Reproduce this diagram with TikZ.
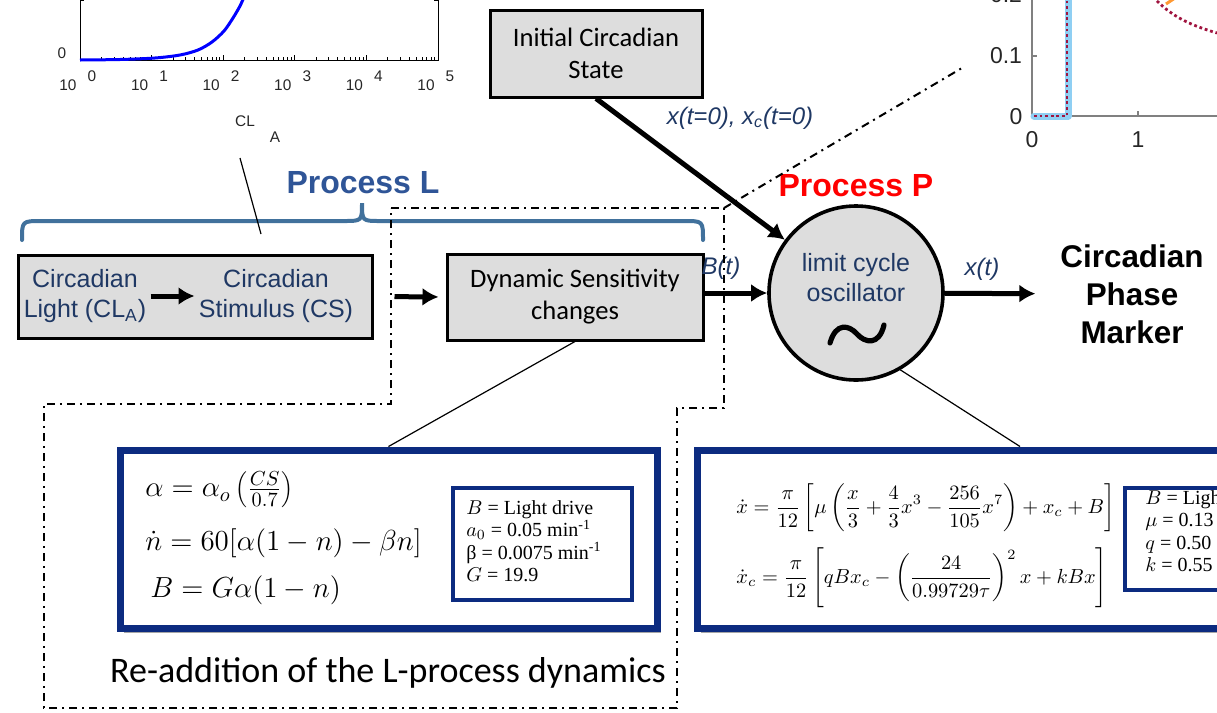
\RequirePackage{fix-cm}
\documentclass[tikz,border=0pt]{standalone}
\usepackage[no-math]{fontspec}
\setmainfont{Liberation Sans}
\newfontfamily\calibri{Carlito}
\newfontfamily\cambria{Liberation Serif}
\usetikzlibrary{arrows.meta,positioning,shadows}
\definecolor{navytext}{HTML}{1F3864}
\definecolor{proclblue}{HTML}{2F5597}
\definecolor{bracelblue}{HTML}{41719C}
\definecolor{boxgray}{HTML}{DDDDDD}
\definecolor{eqnavy}{HTML}{0C2B80}
\definecolor{ticktext}{HTML}{262626}
\definecolor{axisgrey}{HTML}{808080}
\definecolor{steplblue}{HTML}{8FCFF3}
\definecolor{dotred}{HTML}{A0143F}
\tikzset{%
  >={Latex[width=9pt,length=8pt]},
  % Styles for boxes and texts
        graybox/.style = {rectangle, draw=black, line width=1.5pt, fill=boxgray},
       bluetext/.style = {text=navytext, align=center, inner sep=2pt,
                          font=\fontsize{12.5}{15}\selectfont},
    calibritext/.style = {align=center, font=\calibri\fontsize{13.3}{16}\selectfont},
      proctitle/.style = {font=\bfseries\fontsize{16}{19}\selectfont},
     signallabel/.style = {text=navytext, font=\itshape\fontsize{12}{14}\selectfont},
        eqframe/.style = {rectangle, draw=eqnavy, line width=3.5pt, fill=white,
                          drop shadow={shadow xshift=2pt, shadow yshift=-2.5pt,
                                       opacity=0.35, fill=black}},
    legendframe/.style = {rectangle, draw=eqnavy, line width=2pt, fill=white},
     legendtext/.style = {align=left, anchor=west, inner sep=0pt,
                          font=\cambria\fontsize{10}{11.2}\selectfont},
         eqleft/.style = {anchor=west, inner sep=0pt, font=\fontsize{14.5}{17}\selectfont},
        eqright/.style = {anchor=west, inner sep=0pt, font=\fontsize{10.2}{12}\selectfont},
  % Styles for lines
     thickarrow/.style = {->, line width=2.5pt},
         leader/.style = {draw=black, line width=0.6pt},
        dashdot/.style = {draw=black, line width=1pt,
                          dash pattern=on 4pt off 2.5pt on 1pt off 2.5pt},
          brace/.style = {draw=bracelblue, line width=2pt, line cap=round},
       axisline/.style = {draw=black, line width=0.5pt},
      ticklabel/.style = {text=ticktext, inner sep=0pt, font=\fontsize{7.7}{9}\selectfont},
}

\begin{document}
\begin{tikzpicture}[x=0.5pt, y=-0.5pt]
  \clip (0,0) rectangle (1217,713);

  % CL_A response plot (cut off at top left)
  \draw[axisline] (80,-5) -- (80,60) -- (438,60) -- (438,-5);
  \draw[axisline] (80,0) -- (84,0) (438,0) -- (434,0);
  \foreach \d in {0,...,4}{
    \foreach \k in {2,...,9}
      \draw[axisline] ({80+71.6*(\d+log10(\k))},60) -- ++(0,-3);
  }
  \foreach \d in {0,...,5}{
    \draw[axisline] ({80+71.6*\d},60) -- ++(0,-5);
    \node[ticklabel] at ({68+71.6*\d},85) {10};
    \node[ticklabel] at ({92+71.6*\d},76) {\d};
  }
  \node (yzero) [ticklabel] at (62,53) {0};
  \node (cllabel) [ticklabel] at (245,121) {CL};
  \node (clsub) [ticklabel] at (275,137) {A};
  \draw[blue, line width=1.5pt] plot[smooth] coordinates
    {(80,60) (120,59.5) (155,58) (180,55) (198,50) (212,42) (224,31) (233,18) (240,6) (244,-3)};

  % Phase plot (cut off at top right)
  \draw[draw=axisgrey, line width=1pt] (1032,-5) -- (1032,116) -- (1220,116);
  \draw[draw=axisgrey, line width=1pt] (1032,56) -- (1037,56) (1138,116) -- (1138,111);
  \node (ytwo) [ticklabel, font=\fontsize{11.5}{13}\selectfont] at (1006,-5) {0.2};
  \node (yone) [ticklabel, font=\fontsize{11.5}{13}\selectfont] at (1006,56) {0.1};
  \node (ynil) [ticklabel, font=\fontsize{11.5}{13}\selectfont] at (1016,117) {0};
  \node (xnil) [ticklabel, font=\fontsize{11.5}{13}\selectfont] at (1032,140) {0};
  \node (xone) [ticklabel, font=\fontsize{11.5}{13}\selectfont] at (1138,140) {1};
  \draw[steplblue, line width=3.5pt, line join=round, line cap=round]
    (1034,116) -- (1068,116) -- (1068,-5);
  \draw[dotred, line width=1.4pt, dash pattern=on 1.4pt off 1.4pt]
    (1034,116) -- (1067,116) -- (1067,-5);
  \draw[dotred, line width=1.4pt, dash pattern=on 1.4pt off 1.4pt]
    (1153,-3) .. controls (1172,17) and (1190,25) .. (1217,33);
  \draw[orange!80, line width=1.5pt] (1166,4) -- (1175,-2);

  % Process L group
  \node (procL) [proctitle, text=proclblue] at (363,183) {Process L};
  \draw[brace] (22,240) .. controls (22,221) .. (42,221) -- (344,221)
    .. controls (362,221) .. (362,203) .. controls (362,221) .. (380,221)
    -- (684,221) .. controls (703,221) .. (703,240);
  \coordinate (clstart) at (240,158);
  \coordinate (clend) at (261,234);
  \draw[leader] (clstart) -- (clend);

  \node (lightbox) [graybox, minimum width=177pt, minimum height=41.5pt] at (195,296.5) {};
  \node (light) [bluetext] at (85,296) {Circadian\\Light (CL\textsubscript{A})};
  \node (stimulus) [bluetext] at (276,296) {Circadian\\Stimulus (CS)};
  \draw[thickarrow] (light) -- (stimulus);

  \node (dsc) [graybox, calibritext, minimum width=128pt, minimum height=43pt]
    at (575,297) {Dynamic Sensitivity\\changes};
  \node (ics) [graybox, calibritext, minimum width=106pt, minimum height=43.5pt]
    at (596,53.5) {Initial Circadian\\State};

  % Process P
  \node (procP) [proctitle, text=red] at (856,186) {Process P};
  \node (osc) [circle, draw=black, line width=1.8pt, fill=boxgray, minimum size=87pt]
    at (856,293) {};
  \node (osctext) [bluetext] at (856,278) {limit cycle\\oscillator};
  \draw[line width=2.6pt, line cap=round]
    (830,343) .. controls (836,322) and (849,325) .. (857,334)
    .. controls (865,343) and (879,346) .. (884,325);
  \node (marker) [align=center, font=\bfseries\fontsize{15.7}{19}\selectfont]
    at (1132,294) {Circadian\\Phase\\Marker};

  % Signal arrows
  \draw[thickarrow, shorten <=10.5pt, shorten >=3.5pt] (lightbox.east) -- (dsc.west);
  \draw[thickarrow] (dsc.east |- osc) -- (osc.west);
  \node (blabel) [signallabel] at (721,268) {B(t)};
  \draw[thickarrow] (ics.south) -- (osc);
  \node (x0label) [signallabel] at (740,118) {x(t=0), x\textsubscript{c}(t=0)};
  \draw[thickarrow, shorten >=9pt] (osc) -- (marker);
  \node (xlabel) [signallabel] at (982,269) {x(t)};

  % Dash-dotted frames and zoom line
  \coordinate (framecorner) at (724,208);
  \coordinate (zoomend) at (962,68);
  \draw[dashdot] (391,208) -- (framecorner) -- (724,408) -- (677,408) -- (677,708)
    -- (44,708) -- (44,404) -- (391,404) -- cycle;
  \draw[dashdot] (framecorner) -- (zoomend);

  % L-process equations
  \node (leqbox) [eqframe, minimum width=268.5pt, minimum height=89pt] at (388.5,539) {};
  \node (eqalpha) [eqleft] at (145,490)
    {$\alpha = \alpha_o\left(\rule[-6pt]{0pt}{15pt}{\textstyle\frac{CS}{0.7}}\right)$};
  \node (eqn) [eqleft] at (145,543) {$\dot n = 60[\alpha(1-n)-\beta n]$};
  \node (eqb) [eqleft] at (150,590) {$B = G\alpha(1-n)$};
  \node (lleg) [legendframe, minimum width=89.5pt, minimum height=56pt] at (542.5,544) {};
  \node (llegtext) [legendtext] at (466,541)
    {$B$ = Light drive\\ $a_0$ = 0.05 min\textsuperscript{-1}\\
     β = 0.0075 min\textsuperscript{-1}\\ $G$ = 19.9};
  \node (readd) [calibritext, font=\calibri\fontsize{18}{21}\selectfont] at (388,673)
    {Re-addition of the L-process dynamics};
  \draw[leader] (dsc.south) -- (leqbox.north);

  % P-process equations
  \node (reqbox) [eqframe, minimum width=323pt, minimum height=89pt] at (1020,539) {};
  \node (eqx) [eqright] at (736,508)
    {$\displaystyle \dot x = \frac{\pi}{12}\left[\mu\left(\frac{x}{3}+\frac{4}{3}x^3
      -\frac{256}{105}x^7\right)+x_c+B\right]$};
  \node (eqxc) [eqright] at (736,578)
    {$\displaystyle \dot x_c = \frac{\pi}{12}\left[qBx_c
      -\left(\frac{24}{0.99729\tau}\right)^2x+kBx\right]$};
  \node (rleg) [legendframe, minimum width=70pt, minimum height=51pt] at (1195,539) {};
  \node (rlegtext) [legendtext] at (1145,531)
    {$B$ = Light drive\\ $\mu$ = 0.13\\ $q$ = 0.50\\ $k$ = 0.55};
  \draw[leader] (osc.-60) -- (reqbox.north);
\end{tikzpicture}
\end{document}
